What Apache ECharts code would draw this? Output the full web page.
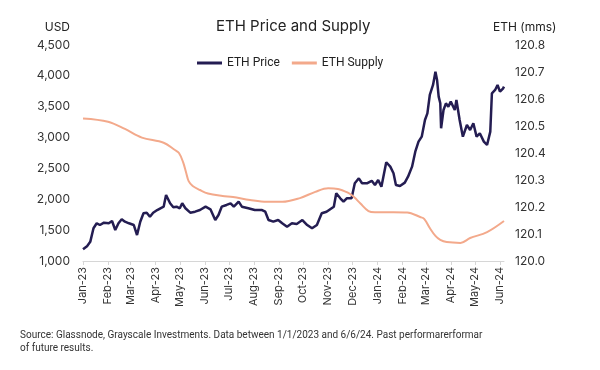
<!DOCTYPE html>
<html><head><meta charset="utf-8">
<script src="https://cdn.jsdelivr.net/npm/echarts@6/dist/echarts.min.js"></script>
<style>html,body{margin:0;padding:0;background:#fff}#c{width:600px;height:370px}</style>
</head><body><div id="c"></div>
<script>
const priceDates = ['2023-01-01','2023-01-06','2023-01-10','2023-01-14','2023-01-18','2023-01-22','2023-01-27','2023-02-02','2023-02-06','2023-02-10','2023-02-14','2023-02-18','2023-02-22','2023-02-27','2023-03-05','2023-03-09','2023-03-13','2023-03-17','2023-03-21','2023-03-25','2023-03-29','2023-04-03','2023-04-07','2023-04-11','2023-04-14','2023-04-16','2023-04-19','2023-04-23','2023-04-27','2023-05-01','2023-05-04','2023-05-08','2023-05-14','2023-05-20','2023-05-26','2023-06-02','2023-06-08','2023-06-14','2023-06-18','2023-06-22','2023-06-28','2023-07-03','2023-07-07','2023-07-13','2023-07-17','2023-07-25','2023-08-02','2023-08-11','2023-08-15','2023-08-19','2023-08-25','2023-08-31','2023-09-05','2023-09-11','2023-09-17','2023-09-23','2023-09-30','2023-10-06','2023-10-12','2023-10-18','2023-10-24','2023-10-30','2023-11-08','2023-11-11','2023-11-16','2023-11-20','2023-11-24','2023-11-30','2023-12-04','2023-12-09','2023-12-13','2023-12-19','2023-12-25','2023-12-29','2024-01-02','2024-01-06','2024-01-12','2024-01-17','2024-01-21','2024-01-24','2024-01-29','2024-02-04','2024-02-08','2024-02-13','2024-02-17','2024-02-21','2024-02-25','2024-02-29','2024-03-03','2024-03-06','2024-03-10','2024-03-13','2024-03-15','2024-03-17','2024-03-19','2024-03-20','2024-03-23','2024-03-26','2024-03-29','2024-04-01','2024-04-06','2024-04-08','2024-04-12','2024-04-16','2024-04-21','2024-04-25','2024-04-29','2024-05-03','2024-05-07','2024-05-12','2024-05-16','2024-05-20','2024-05-22','2024-05-26','2024-05-29','2024-06-01','2024-06-05','2024-06-06'];
const priceValues = [1190,1240,1310,1530,1611,1583,1621,1611,1648,1502,1611,1676,1637,1611,1583,1421,1637,1773,1783,1718,1783,1826,1854,1880,2070,2086,1935,1870,1880,1854,1935,1854,1783,1799,1826,1880,1838,1664,1745,1880,1908,1935,1880,1961,1880,1854,1826,1826,1799,1664,1637,1664,1611,1556,1611,1600,1664,1583,1530,1583,1773,1799,1880,2097,2016,1961,2016,2016,2259,2340,2259,2259,2300,2232,2313,2205,2600,2529,2421,2232,2216,2270,2366,2529,2772,2934,3015,3285,3393,3690,3852,4068,3934,3663,3555,3150,3447,3555,3501,3582,3447,3609,3285,3015,3204,3123,3231,3015,3069,2934,2880,3096,3717,3771,3852,3744,3798,3825];
const supplyDates = ['2023-01-01','2023-02-01','2023-02-22','2023-03-15','2023-04-11','2023-04-25','2023-04-30','2023-05-05','2023-05-09','2023-05-12','2023-05-17','2023-05-26','2023-06-05','2023-06-23','2023-07-06','2023-07-27','2023-08-17','2023-09-05','2023-09-27','2023-10-16','2023-11-01','2023-11-13','2023-11-26','2023-12-03','2023-12-11','2023-12-21','2023-12-29','2024-01-21','2024-02-07','2024-02-23','2024-02-28','2024-03-06','2024-03-13','2024-03-19','2024-03-27','2024-04-13','2024-04-25','2024-05-16','2024-06-06'];
const supplyValues = [120.528,120.516,120.489,120.457,120.438,120.411,120.400,120.367,120.326,120.296,120.278,120.263,120.250,120.241,120.237,120.226,120.219,120.219,120.233,120.256,120.269,120.267,120.252,120.237,120.213,120.185,120.181,120.181,120.180,120.163,120.156,120.122,120.093,120.078,120.070,120.067,120.085,120.107,120.148];
const monthNames = ['Jan','Feb','Mar','Apr','May','Jun','Jul','Aug','Sep','Oct','Nov','Dec'];
const titleText = 'ETH Price and Supply';
const seriesNames = ['ETH Price','ETH Supply'];
const leftAxisName = 'USD';
const rightAxisName = 'ETH (mms)';
const footnote1 = 'Source: Glassnode, Grayscale Investments. Data between 1/1/2023 and 6/6/24. Past performarerformar';
const footnote2 = 'of future results.';

const FONT = 'Inter';
const chart = echarts.init(document.getElementById('c'));
const toTs = s => echarts.time.parse(s).getTime();
chart.setOption({
  animation: false,
  textStyle: { fontFamily: FONT },
  grid: { left: 83, right: 96, top: 45, bottom: 109, containLabel: false },
  legend: {
    data: seriesNames, left: 192, top: 52, icon: 'rect', itemWidth: 25, itemHeight: 3, itemGap: 12,
    textStyle: { fontSize: 12, color: '#222', fontFamily: 'Roboto' }
  },
  xAxis: {
    type: 'time', min: toTs('2023-01-01'), max: toTs('2024-06-06'),
    splitNumber: 18, minInterval: 27 * 864e5, maxInterval: 32 * 864e5,
    axisLine: { lineStyle: { color: '#d6d6d6' } },
    axisTick: { show: true, length: 4, lineStyle: { color: '#d6d6d6' } },
    splitLine: { show: false },
    axisLabel: {
      rotate: 90, fontSize: 11, color: '#333', margin: 6, hideOverlap: false, fontFamily: FONT,
      formatter: v => { const d = new Date(v); return monthNames[d.getMonth()] + '-' + String(d.getFullYear()).slice(2); }
    }
  },
  yAxis: [
    { type: 'value', min: 1000, max: 4500, interval: 500, position: 'left',
      axisLine: { show: false }, axisTick: { show: false }, splitLine: { show: false },
      axisLabel: { fontSize: 12, color: '#333', margin: 13, fontFamily: FONT, formatter: v => v.toLocaleString('en-US') } },
    { type: 'value', min: 120, max: 120.8, interval: 0.1, position: 'right',
      axisLine: { show: false }, axisTick: { show: false }, splitLine: { show: false },
      axisLabel: { fontSize: 12, color: '#333', margin: 11, fontFamily: FONT, formatter: v => v.toFixed(1) } }
  ],
  series: [
    { name: seriesNames[0], type: 'line', yAxisIndex: 0, showSymbol: false, symbol: 'none',
      data: priceDates.map((d, i) => [d, priceValues[i]]),
      lineStyle: { width: 2.5, color: '#241d52' }, itemStyle: { color: '#241d52' } },
    { name: seriesNames[1], type: 'line', yAxisIndex: 1, showSymbol: false, symbol: 'none', smooth: 0.35,
      data: supplyDates.map((d, i) => [d, supplyValues[i]]),
      lineStyle: { width: 2, color: '#f3a98b' }, itemStyle: { color: '#f3a98b' } }
  ],
  graphic: [
    { type: 'text', left: 216, top: 19, style: { text: titleText, font: '15px ' + FONT, fill: '#222' } },
    { type: 'text', right: 600 - 70, top: 21, style: { text: leftAxisName, font: '12px ' + FONT, fill: '#222' } },
    { type: 'text', left: 493, top: 21, style: { text: rightAxisName, font: '12px ' + FONT, fill: '#222' } },
    { type: 'text', left: 20, top: 330, style: { text: footnote1, font: '10px Roboto', fill: '#333' } },
    { type: 'text', left: 20, top: 343, style: { text: footnote2, font: '10px Roboto', fill: '#333' } }
  ]
});
</script></body></html>
